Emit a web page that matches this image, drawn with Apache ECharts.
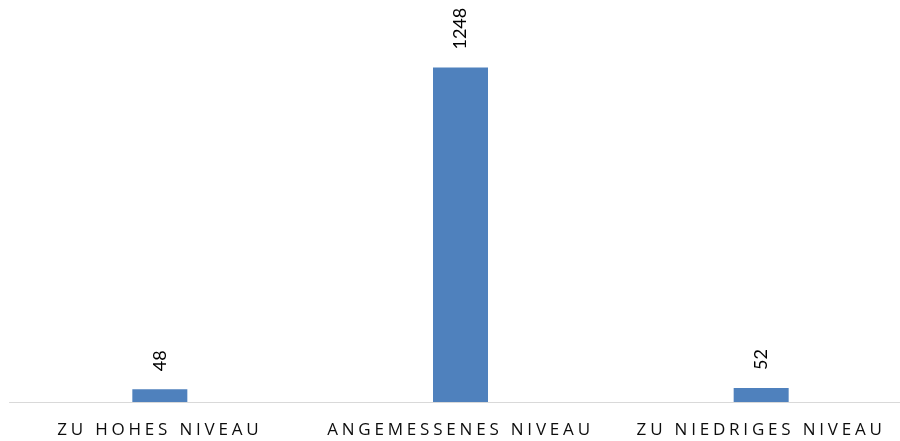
<!DOCTYPE html>
<html>
<head>
<meta charset="utf-8">
<script src="https://cdn.jsdelivr.net/npm/echarts@6/dist/echarts.min.js"></script>
<style>
    html, body {
        margin: 0;
        padding: 0;
        background: #fff;
    }

    #chart {
        width: 900px;
        height: 441px;
    }
</style>
</head>
<body>
<div id="chart"></div>
<script>
// Werte aus der Grafik
const categories = ['ZU HOHES NIVEAU', 'ANGEMESSENES NIVEAU', 'ZU NIEDRIGES NIVEAU']
const counts = [48, 1248, 52]
const yMax = 1500

// gesperrte Schrift für die Kategorien (ECharts kennt kein letterSpacing)
const fillText = CanvasRenderingContext2D.prototype.fillText
CanvasRenderingContext2D.prototype.fillText = function (text, x, y, maxWidth) {
    this.letterSpacing = categories.includes(text) ? '3.8px' : '0px'
    return maxWidth === undefined
        ? fillText.call(this, text, x, y)
        : fillText.call(this, text, x, y, maxWidth)
}

const chart = echarts.init(document.getElementById('chart'))
chart.setOption({
    animation: false,
    grid: {
        left: 9.5,
        top: 0,
        bottom: 39,
        width: 902,
        outerBoundsMode: 'none'
    },
    xAxis: {
        type: 'category',
        data: categories,
        axisLine: {
            lineStyle: {
                color: '#d9d9d9',
                width: 1
            }
        },
        axisTick: {show: false},
        axisLabel: {
            color: '#0d0d0d',
            fontFamily: 'Open Sans',
            fontSize: 17,
            margin: 20
        }
    },
    yAxis: {
        type: 'value',
        min: 0,
        max: yMax,
        show: false
    },
    series: [
        {
            type: 'bar',
            data: counts,
            barWidth: 55,
            itemStyle: {
                color: '#4f81bd'
            },
            label: {
                show: true,
                position: 'top',
                rotate: 90,
                align: 'left',
                verticalAlign: 'middle',
                distance: 18,
                color: '#000',
                fontFamily: 'Lato',
                fontSize: 18
            }
        }
    ]
})
</script>
</body>
</html>
